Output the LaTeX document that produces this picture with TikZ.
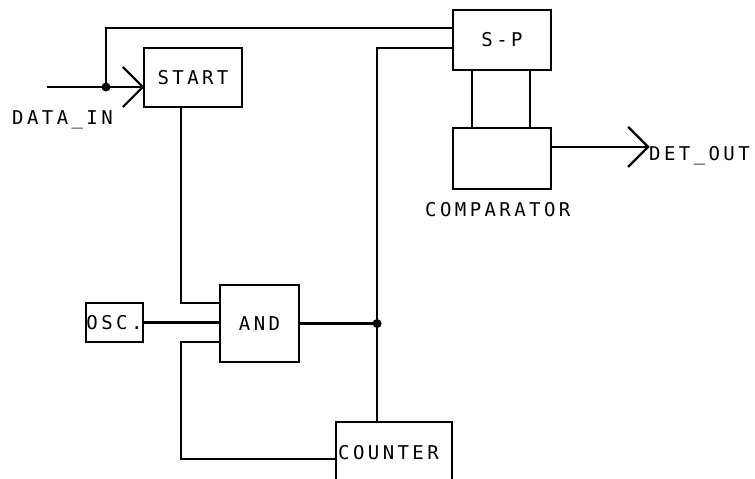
\documentclass[tikz,border=0pt]{standalone}
\usepackage{fontspec}
\newfontfamily\plotfont[LetterSpace=18]{DejaVu Sans Mono}
\usetikzlibrary{calc}
\tikzset{
  blk/.style={draw, line width=2.2pt, inner sep=0pt, font=\plotfont\fontsize{19}{19}\selectfont},
  lbl/.style={inner sep=0pt, font=\plotfont\fontsize{19}{19}\selectfont},
  wire/.style={line width=2.2pt},
  dotj/.style={fill=black}
}
\begin{document}
\begin{tikzpicture}[x=1pt,y=-1pt]
\path[use as bounding box] (0,0) rectangle (755,479);
\clip (0,0) rectangle (755,479);
% blocks
\node[blk, minimum width=98, minimum height=59] (start) at (193,77.5) {START};
\node[blk, minimum width=98, minimum height=60] (sp) at (502,40) {S-P};
\node[blk, minimum width=98, minimum height=61] (comp) at (502,158.5) {};
\node[blk, minimum width=79, minimum height=77] (and) at (259.5,323.5) {AND};
\node[blk, minimum width=57, minimum height=39] (osc) at (114.5,322.5) {OSC.};
\node[blk, minimum width=116, minimum height=80] (counter) at (394,462) {};
% labels
\node[lbl, anchor=base west] (datain) at (12,124) {DATA\_IN};
\node[lbl, anchor=base west] (detout) at (649,160) {DET\_OUT};
\node[lbl, anchor=base west] (complbl) at (425,216) {COMPARATOR};
\node[lbl, anchor=base west] (cntlbl) at (338,459) {COUNTER};
% coordinates
\coordinate (din) at (47,87);
\coordinate (sin) at (start.west |- din);
\coordinate (j1) at (106,87);
\coordinate (spin1) at ($(sp.north west)+(0,19)$);
\coordinate (spin2) at ($(sp.north west)+(0,39)$);
\coordinate (j2) at ($(and.east)+(77,0)$);
\coordinate (cout) at ($(comp.north east)+(0,20)$);
\coordinate (dout) at ($(comp.north east)+(96,20)$);
\coordinate (andin1) at ($(and.north west)+(0,19)$);
\coordinate (andin3) at ($(and.north west)+(0,58)$);
\coordinate (cntin) at ($(counter.north west)+(0,38)$);
% data in
\draw[wire] (din) -- (sin);
\draw[wire] ($(sin)+(-20,-20)$) -- (sin) -- ($(sin)+(-20,20)$);
\fill[dotj] (j1) circle (4.5);
\draw[wire] (j1) |- (spin1);
% S-P feed and counter line
\draw[wire] (spin2) -| (j2 |- counter.north);
\draw[wire] (and.east) -- (j2);
\fill[dotj] (j2) circle (4.5);
% S-P to comparator
\draw[wire] ($(sp.south west)+(20,0)$) -- ($(comp.north west)+(20,0)$);
\draw[wire] ($(sp.south west)+(78,0)$) -- ($(comp.north west)+(78,0)$);
% det out
\draw[wire] (cout) -- (dout);
\draw[wire] ($(dout)+(-20,-20)$) -- (dout) -- ($(dout)+(-20,20)$);
% start to and
\draw[wire] ($(start.south west)+(38,0)$) |- (andin1);
% osc to and
\draw[wire] (osc.east) -- (osc.east -| and.west);
% and feedback from counter
\draw[wire] (andin3) -- ++(-38,0) |- (cntin);
\end{tikzpicture}
\end{document}
